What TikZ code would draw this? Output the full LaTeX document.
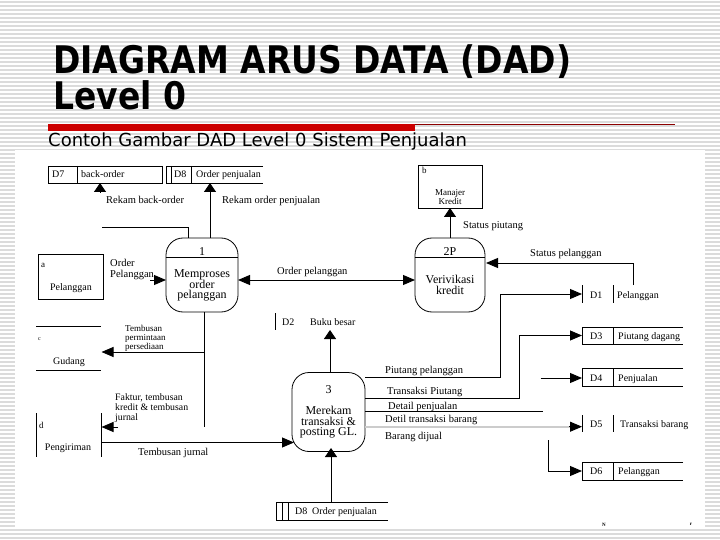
\documentclass[tikz,border=0pt]{standalone}
\usepackage{fontspec}
\usepackage{graphicx}
\setmainfont{Liberation Serif}
\newfontfamily\tfont{DejaVu Sans}
\usetikzlibrary{arrows.meta}
\begin{document}
\begin{tikzpicture}[x=1pt,y=-1pt,
  ln/.style={line width=0.9pt,black},
  arrh/.style={ln,-{Triangle[length=12pt,width=10pt]}},
  arrv/.style={ln,-{Triangle[length=9pt,width=12pt]}},
  proc/.style={draw,line width=0.8pt,rounded corners=17pt,inner sep=0pt},
  fl/.style={font=\fontsize{10.5}{11}\selectfont,inner sep=0pt,anchor=base west},
  fls/.style={font=\fontsize{9.8}{10}\selectfont,inner sep=0pt,anchor=base west},
  sm/.style={font=\fontsize{9}{10}\selectfont,inner sep=0pt,anchor=base west},
  pt/.style={font=\fontsize{12}{13}\selectfont,inner sep=0pt,anchor=base},
  st/.style={font=\fontsize{10}{10}\selectfont,inner sep=0pt,anchor=base west},
  box/.style={inner sep=0pt,outer sep=0pt}]
\useasboundingbox (0,0) rectangle (720,540);
\fill[white] (0,0) rectangle (720,540);
\foreach \yy in {2,6,...,538} \draw[gray!28,line width=1.1pt] (0,\yy) -- (720,\yy);
\fill[white] (15,150) rectangle (705,527);
% title
\node[inner sep=0pt,anchor=base west] (title1) at (53,74) {\scalebox{0.868}[1]{\tfont\bfseries\fontsize{38}{38}\selectfont DIAGRAM ARUS DATA (DAD)}};
\node[inner sep=0pt,anchor=base west] (title2) at (53,110) {\scalebox{0.868}[1]{\tfont\bfseries\fontsize{38}{38}\selectfont Level 0}};
\fill[red!80!black] (48,124.5) rectangle (415,131);
\draw[red!55!black,line width=0.8pt] (415,124) -- (675,124);
\node[inner sep=0pt,anchor=base west] (sub) at (48,147) {\tfont\fontsize{18}{18}\selectfont Contoh Gambar DAD Level 0 Sistem Penjualan};
% processes
\node[proc,minimum width=72pt,minimum height=74pt] (p1) at (202,275) {};
\draw[ln] ([yshift=-20pt]p1.north west) -- ([yshift=-20pt]p1.north east);
\node[pt] at (202,255) {1};
\node[pt] at (202,277.5) {Memproses};
\node[pt] at (202,288) {order};
\node[pt] at (202,298.5) {pelanggan};
\node[proc,minimum width=70pt,minimum height=74pt] (p2) at (450,275) {};
\draw[ln] ([yshift=-20pt]p2.north west) -- ([yshift=-20pt]p2.north east);
\node[pt] at (450,255) {2P};
\node[pt] at (450,283) {Verivikasi};
\node[pt] at (450,294) {kredit};
\node[proc,minimum width=73pt,minimum height=79pt] (p3) at (328.5,412) {};
\node[pt] at (328.5,393) {3};
\node[pt] at (328.5,414) {Merekam};
\node[pt] at (328.5,425) {transaksi \&};
\node[pt] at (328.5,435.5) {posting GL.};
% external entities
\node[box,draw,line width=0.8pt,minimum width=65pt,minimum height=45pt] (ea) at (70.5,276.5) {};
\node[sm] at (41,267) {a};
\node[st,anchor=base] at (71,290) {Pelanggan};
\node[box,draw,line width=0.8pt,minimum width=64pt,minimum height=43pt] (eb) at (450,186.5) {};
\node[sm] at (422,174) {b};
\node[sm,anchor=base,font=\fontsize{9}{9}\selectfont] at (450,196) {Manajer};
\node[sm,anchor=base,font=\fontsize{9}{9}\selectfont] at (450,205) {Kredit};
\node[box,minimum width=65pt,minimum height=44pt] (ec) at (68.5,348) {};
\draw[ln] (ec.north west) -- (ec.north east) (ec.south west) -- (ec.south east);
\node[sm,font=\fontsize{6}{6}\selectfont] at (38,340) {c};
\node[st,anchor=base] at (69,364) {Gudang};
\node[box,minimum width=65pt,minimum height=44pt] (ed) at (68.5,435) {};
\draw[ln] (ed.north west) -- (ed.south west) (ed.north east) -- (ed.south east);
\node[sm] at (39,428) {d};
\node[st,anchor=base] at (68,450) {Pengiriman};
% data stores
\node[box,minimum width=114pt,minimum height=17pt] (D7) at (105,174.5) {};
\draw[ln] (D7.north west) rectangle (D7.south east);
\draw[ln] (77,166) -- (77,183);
\node[st] at (52,177.5) {D7};
\node[st] at (81,177.5) {back-order};
\node[box,minimum width=97pt,minimum height=17pt] (D8a) at (214.5,174.5) {};
\draw[ln] (D8a.north east) -- (D8a.north west) -- (D8a.south west) -- (D8a.south east);
\draw[ln] (171.5,166) -- (171.5,183) (191.5,166) -- (191.5,183);
\node[st] at (174,177.5) {D8};
\node[st] at (196,177.5) {Order penjualan};
\node[box,minimum width=112pt,minimum height=18pt] (D8b) at (332,511) {};
\draw[ln] (D8b.north east) -- (D8b.north west) -- (D8b.south west) -- (D8b.south east);
\draw[ln] (282.5,502) -- (282.5,520) (288.5,502) -- (288.5,520);
\node[st] at (295,514.5) {D8};
\node[st] at (312,514.5) {Order penjualan};
\node[box,minimum height=17pt,minimum width=2pt] (D2) at (275,321.5) {};
\draw[ln] (275,313) -- (275,330);
\node[st] at (282,325) {D2};
\node[st] at (310,325) {Buku besar};
\node[box,minimum width=101pt,minimum height=18pt] (D1) at (632.5,294) {};
\draw[ln] (582,285) -- (582,303) (613,285) -- (613,303);
\node[st] at (590,298) {D1};
\node[st] at (617,298) {Pelanggan};
\node[box,minimum width=101pt,minimum height=17pt] (D3) at (632.5,335.5) {};
\draw[ln] (D3.north east) -- (D3.north west) -- (D3.south west) -- (D3.south east);
\draw[ln] (613,327) -- (613,344);
\node[st] at (590,339) {D3};
\node[st] at (618,339) {Piutang dagang};
\node[box,minimum width=101pt,minimum height=18pt] (D4) at (632.5,377) {};
\draw[ln] (D4.north east) -- (D4.north west) -- (D4.south west) -- (D4.south east);
\draw[ln] (613,368) -- (613,386);
\node[st] at (590,381) {D4};
\node[st] at (618,381) {Penjualan};
\node[box,minimum width=101pt,minimum height=17pt] (D5) at (632.5,423.5) {};
\draw[ln] (582,415) -- (582,432) (613,415) -- (613,432);
\node[st] at (590,427) {D5};
\node[st] at (620,427) {Transaksi barang};
\node[box,minimum width=101pt,minimum height=18pt] (D6) at (632.5,471) {};
\draw[ln] (D6.north east) -- (D6.north west) -- (D6.south west) -- (D6.south east);
\draw[ln] (613,462) -- (613,480);
\node[st] at (590,474.5) {D6};
\node[st] at (618,474.5) {Pelanggan};
% connectors top-left
\draw[ln] (188,238) |- (102,227);
\draw[arrv] (100,193) -- (100,183);
\draw[arrv] (210,238) -- (210,183);
\node[fl] at (106,204) {Rekam back-order};
\node[fl] at (222,204) {Rekam order penjualan};
\draw[arrh] (150,280) -- (166,280);
\node[fl] at (110,266) {Order};
\node[fl] at (110,277.5) {Pelanggan};
\draw[ln,{Triangle[length=12pt,width=10pt]}-{Triangle[length=12pt,width=10pt]}] (238,280) -- (415,280);
\node[fl] at (277,274) {Order pelanggan};
% left side flows
\draw[ln] (204,312) -- (204,427);
\draw[arrh] (204,352) -- (101.5,352);
\node[sm,font=\fontsize{9}{9}\selectfont] at (125,331.5) {Tembusan};
\node[sm,font=\fontsize{9}{9}\selectfont] at (125,340.5) {permintaan};
\node[sm,font=\fontsize{9}{9}\selectfont] at (125,349.5) {persediaan};
\draw[arrh] (118,427) -- (101.5,427);
\node[fls] at (115,400.5) {Faktur, tembusan};
\node[fls] at (115,410.5) {kredit \& tembusan};
\node[fls] at (115,420) {jurnal};
\draw[arrh] (101,442.5) -- (294,442.5);
\node[fl] at (138,455) {Tembusan jurnal};
% process 3 flows
\draw[arrv] (330,372.5) -- (330,330);
\draw[arrv] (331,502) -- (331,448);
\draw[arrh] (365,377.5) -| (500.5,294) -- (582,294);
\node[fl] at (385,373) {Piutang pelanggan};
\draw[arrh] (365,398.3) -| (519.5,335.5) -- (582,335.5);
\node[fl] at (387,394.5) {Transaksi Piutang};
\draw[ln] (365,411.5) -- (543,411.5);
\node[fl] at (388,409.5) {Detail penjualan};
\draw[arrh] (540.5,378) -- (582,378);
\draw[gray!40,line width=1.8pt] (365,426.7) -- (572,426.7);
\draw[arrh] (569,426.7) -- (582,426.7);
\node[fl] at (385,422) {Detil transaksi barang};
\node[fl] at (385,439) {Barang dijual};
\draw[arrh] (548,440) |- (582,471);
% right top flows
\draw[arrv] (450,238) -- (450,208);
\node[fl] at (463,228.5) {Status piutang};
\draw[arrh] (633,285) |- (486,263);
\node[fl] at (530,256.5) {Status pelanggan};
% tiny marks
\node[inner sep=0pt,font=\fontsize{5}{5}\selectfont\bfseries] (m1) at (604,524.5) {N};
\node[inner sep=0pt,font=\fontsize{5}{5}\selectfont\bfseries] (m2) at (691,524.5) {r};
\end{tikzpicture}
\end{document}
